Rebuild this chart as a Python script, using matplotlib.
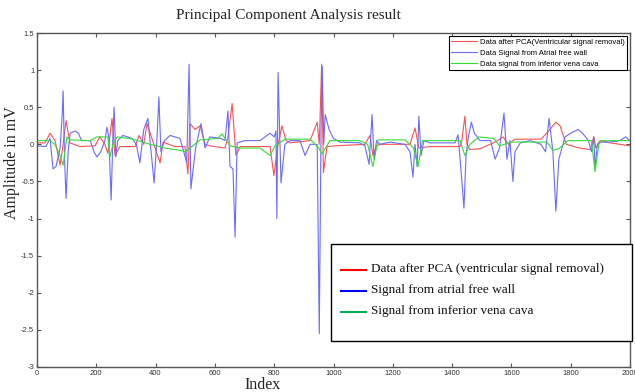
import matplotlib
matplotlib.use("Agg")
import matplotlib.pyplot as plt
from matplotlib.lines import Line2D
from matplotlib.patches import Rectangle

# ---- data (index, amplitude in mV) ----
red_idx = [0, 27, 44, 61, 78, 88, 98, 111, 145, 196, 212, 229, 239, 253, 263, 280, 331, 344, 360, 371,
           390, 415, 425, 465, 499, 509, 516, 533, 550, 567, 583, 634, 644, 658, 671, 685, 786, 799, 813,
           826, 840, 853, 921, 945, 952, 960, 966, 978, 1005, 1106, 1123, 1133, 1145, 1157, 1258, 1275,
           1288, 1325, 1427, 1433, 1443, 1450, 1460, 1494, 1545, 1572, 1590, 1612, 1700, 1730, 1750, 1764,
           1785, 1830, 1865, 1878, 1885, 1899, 1932, 1966, 2000]
red_val = [0.02, 0.02, 0.15, 0.05, -0.28, 0.0, 0.32, 0.02, -0.03, -0.02, 0.1, 0.0, -0.12, 0.35, -0.15,
           -0.03, -0.03, 0.12, 0.0, 0.28, 0.05, -0.25, 0.03, -0.03, -0.03, -0.4, 0.28, 0.2, 0.25, 0.0,
           -0.02, -0.05, 0.1, 0.55, -0.15, -0.03, -0.03, -0.42, 0.0, 0.25, 0.05, 0.02, 0.05, 0.3, 0.0,
           1.08, -0.38, -0.03, -0.02, 0.0, 0.12, -0.15, -0.02, 0.0, 0.0, 0.22, -0.05, -0.03, -0.03, 0.05,
           0.38, 0.0, -0.07, -0.06, 0.03, 0.1, 0.0, 0.07, 0.07, 0.2, 0.3, 0.25, 0.0, -0.05, -0.07, 0.1,
           -0.05, 0.05, 0.02, 0.0, -0.02]

blue_idx = [0, 30, 44, 54, 64, 78, 85, 88, 93, 98, 105, 112, 128, 140, 150, 180, 192, 202, 215, 229, 236,
            242, 250, 256, 260, 266, 272, 290, 320, 335, 347, 360, 374, 380, 395, 405, 411, 418, 430, 449,
            482, 495, 505, 513, 519, 535, 553, 567, 583, 620, 634, 644, 651, 661, 668, 675, 702, 752, 786,
            800, 806, 809, 813, 823, 836, 853, 887, 904, 921, 945, 952, 958, 962, 967, 972, 985, 1000,
            1022, 1089, 1106, 1120, 1130, 1137, 1145, 1157, 1190, 1241, 1258, 1268, 1275, 1282, 1288,
            1295, 1305, 1325, 1410, 1420, 1427, 1440, 1447, 1455, 1465, 1475, 1494, 1530, 1545, 1560,
            1575, 1585, 1595, 1605, 1612, 1630, 1663, 1700, 1715, 1727, 1740, 1750, 1760, 1781, 1800,
            1825, 1840, 1860, 1870, 1878, 1882, 1890, 1900, 1932, 1966, 1985, 2000]
blue_val = [-0.02, -0.03, 0.08, -0.33, -0.3, -0.05, 0.4, 0.72, -0.2, -0.73, -0.1, 0.15, 0.18, 0.15, 0.05,
            0.05, -0.1, -0.17, -0.1, 0.05, 0.23, 0.1, -0.75, 0.1, 0.5, -0.17, 0.05, 0.12, 0.08, 0.0,
            -0.25, 0.2, 0.35, 0.1, -0.52, 0.1, 0.64, -0.1, 0.05, 0.12, 0.08, -0.1, -0.25, 1.08, -0.6,
            -0.05, 0.28, -0.05, 0.1, 0.08, 0.05, 0.45, -0.3, -0.33, -1.25, 0.02, 0.05, 0.05, 0.15, 0.1,
            0.18, -1.0, 0.97, -0.52, 0.0, 0.05, 0.05, -0.15, 0.0, 0.0, -2.55, 0.2, 1.05, 0.0, 0.4, 0.2,
            0.08, 0.03, 0.02, -0.02, -0.27, 0.4, -0.2, 0.05, 0.0, 0.03, 0.0, -0.1, -0.44, 0.0, -0.3,
            0.38, -0.15, 0.05, 0.02, 0.02, 0.13, -0.2, -0.86, -0.15, 0.1, 0.3, 0.15, 0.05, 0.05, -0.2,
            -0.05, 0.42, -0.2, 0.05, -0.5, -0.1, 0.02, 0.05, 0.0, -0.1, 0.35, -0.1, -0.9, -0.2, 0.1,
            0.15, 0.2, 0.15, 0.05, -0.1, 0.1, -0.32, 0.0, 0.03, 0.03, 0.05, 0.1, 0.05]

green_idx = [0, 44, 60, 75, 88, 101, 111, 179, 202, 239, 246, 256, 270, 324, 381, 405, 430, 482, 499, 516,
             550, 610, 624, 651, 685, 752, 786, 803, 836, 921, 950, 961, 988, 1089, 1115, 1133, 1150,
             1241, 1270, 1285, 1300, 1427, 1443, 1460, 1490, 1540, 1560, 1600, 1720, 1740, 1760, 1790,
             1870, 1882, 1895, 1905, 2000]
green_val = [0.05, 0.05, 0.0, -0.12, -0.28, 0.1, 0.06, 0.05, 0.1, 0.1, -0.17, 0.0, 0.1, 0.07, 0.0, -0.02,
             -0.05, -0.08, -0.1, -0.05, 0.06, 0.08, 0.14, -0.02, -0.05, -0.05, -0.15, -0.02, 0.07, 0.07,
             -0.05, -0.13, 0.05, 0.05, 0.0, -0.3, 0.06, 0.06, -0.05, -0.3, 0.05, 0.05, -0.15, 0.0, 0.1,
             0.08, -0.02, 0.03, 0.03, -0.08, -0.06, 0.05, 0.05, -0.37, 0.0, 0.05, 0.05]

labels_top = ["Data after PCA(Ventricular signal removal)",
              "Data Signal from Atrial free wall",
              "Data signal from inferior vena cava"]
labels_box = ["Data after PCA (ventricular signal removal)",
              "Signal from atrial free wall",
              "Signal from inferior vena cava"]

xticks = [0, 200, 400, 600, 800, 1000, 1200, 1400, 1600, 1800, 2000]
yticks = [-3, -2.5, -2, -1.5, -1, -0.5, 0, 0.5, 1, 1.5]

fig = plt.figure(figsize=(6.35, 3.92), dpi=100)
ax = fig.add_axes([37/635, 1 - 367/392, (630-37)/635, (367-33)/392])

l1, = ax.plot(red_idx, red_val, color="#ff5050", lw=0.8)
l2, = ax.plot(blue_idx, blue_val, color="#6a6aff", lw=0.8)
l3, = ax.plot(green_idx, green_val, color="#33dd33", lw=0.8)

ax.set_xlim(0, 2000)
ax.set_ylim(-3, 1.5)
ax.set_xticks(xticks)
ax.set_yticks(yticks)
ax.set_xticklabels([str(t) for t in xticks])
ax.set_yticklabels([("%g" % t) for t in yticks])
ax.tick_params(direction="in", length=3, width=0.8, top=True, right=True,
               labelsize=5.5, labelcolor="#333333", color="#555555", pad=2)
for lab in ax.get_xticklabels() + ax.get_yticklabels():
    lab.set_family("Liberation Sans")
for s in ax.spines.values():
    s.set_color("#555555")
    s.set_linewidth(1.0)

leg = ax.legend([l1, l2, l3], labels_top, loc="upper right",
                prop={"family": "Liberation Sans", "size": 5.5},
                handlelength=3.4, handletextpad=0.3, borderaxespad=0.4,
                labelspacing=0.45, fancybox=False, framealpha=1,
                edgecolor="black", borderpad=0.35)
leg.get_frame().set_linewidth(0.8)

# Second (annotation) legend box drawn in figure pixel coordinates
W, H = 635, 392
def fx(px):
    return px / W
def fy(py):
    return 1 - py / H

fig.add_artist(Rectangle((fx(331), fy(341)), fx(632) - fx(331), fy(244) - fy(341),
                         transform=fig.transFigure, facecolor="white",
                         edgecolor="black", lw=1.0))
box_colors = ["#ff0000", "#0000ff", "#00b050"]
rows = [269, 290, 311]
for c, r, t in zip(box_colors, rows, labels_box):
    fig.add_artist(Line2D([fx(341), fx(366)], [fy(r + 1), fy(r + 1)],
                          transform=fig.transFigure, color=c, lw=1.5))
    fig.text(fx(371), fy(r), t, family="Liberation Serif", fontsize=9.5,
             va="center", ha="left", color="#111111")

fig.text(288 / W, fy(16), "Principal Component Analysis result", family="Liberation Serif",
         fontsize=11, ha="center", va="center", color="#222222")
fig.text(263 / W, fy(385), "Index", family="Liberation Serif", fontsize=11.5,
         ha="center", va="center", color="#222222")
fig.text(12 / W, fy(163), "Amplitude in mV", family="Liberation Serif", fontsize=11.5,
         ha="center", va="center", rotation=90, color="#222222")

fig.savefig("out.png", dpi=100)
